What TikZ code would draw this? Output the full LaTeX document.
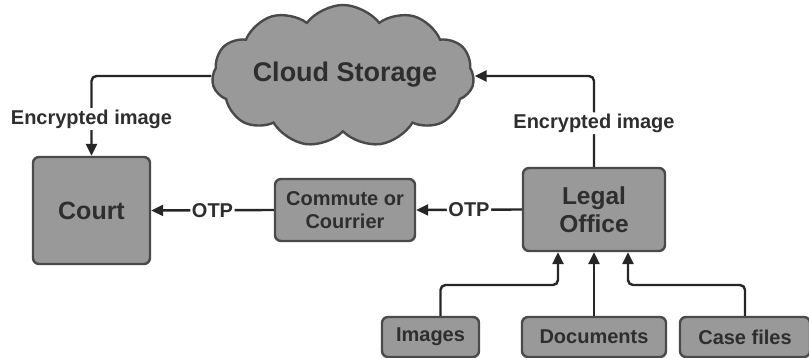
\documentclass[tikz,border=0pt]{standalone}
\usepackage{fontspec}
\setmainfont{Liberation Sans}
\usetikzlibrary{shapes.symbols,arrows.meta}
\definecolor{boxgray}{HTML}{999999}
\definecolor{edgegray}{HTML}{4A4A4A}
\definecolor{txtgray}{HTML}{2E2E2E}

\begin{document}
\begin{tikzpicture}[x=1pt, y=-1pt,
		box/.style={draw=edgegray, fill=boxgray, line width=2.4pt, rounded corners=6pt, inner sep=0pt, text=txtgray, font=\bfseries\fontsize{20}{22.5}\selectfont, align=center},
		conn/.style={draw=black!85, line width=2.4pt, rounded corners=5pt, -{Triangle[length=12pt, width=11pt]}},
		lbl/.style={fill=white, inner sep=1.5pt, text=txtgray, font=\bfseries\fontsize{20}{22}\selectfont}]
			%%%%% START %%%%%
			
			\useasboundingbox (0, 0) rectangle (809, 358);
			
			\node[cloud, cloud puffs=11, cloud puff arc=105, aspect=1.9, draw=edgegray, fill=boxgray, line width=2.4pt, minimum width=262pt, minimum height=142pt, inner sep=0pt] (cloud) at (343, 76) {};
			\node[text=txtgray, font=\bfseries\fontsize{27}{30}\selectfont] (cloudtxt) at (345, 75) {Cloud Storage};
			
			\node[box, minimum width=117pt, minimum height=107pt, font=\bfseries\fontsize{25}{28}\selectfont] (court) at (91.5, 210.5) {Court};
			\node[box, minimum width=140pt, minimum height=62pt] (commute) at (345, 210) {Commute or\\Courrier};
			\node[box, minimum width=142pt, minimum height=83pt, font=\bfseries\fontsize{24.5}{28}\selectfont] (legal) at (594, 209.5) {Legal\\Office};
			
			\node[box, minimum width=97pt, minimum height=40pt] (images) at (430.5, 337) {Images};
			\node[box, minimum width=144pt, minimum height=40pt] (docs) at (594, 337) {Documents};
			\node[box, minimum width=130pt, minimum height=40pt] (cases) at (745, 337) {Case files};
			
			\draw[conn] (cloud.west) -| (court.north) node[lbl, pos=0.77] {Encrypted image};
			\draw[conn] (legal.north) |- (cloud.east) node[lbl, pos=0.24] {Encrypted image};
			
			\draw[conn] (commute.west) -- (court.east) node[lbl, midway] {OTP};
			\draw[conn] (legal.west) -- (commute.east) node[lbl, midway] {OTP};
			
			\draw[conn] ([xshift=10pt]images.north) |- (514, 285) -| ([xshift=-36pt]legal.south);
			\draw[conn] (docs.north) -- (legal.south);
			\draw[conn] (cases.north) |- (674, 285) -| ([xshift=34pt]legal.south);
			
			%%%%% END %%%%%
		\end{tikzpicture}
\end{document}
